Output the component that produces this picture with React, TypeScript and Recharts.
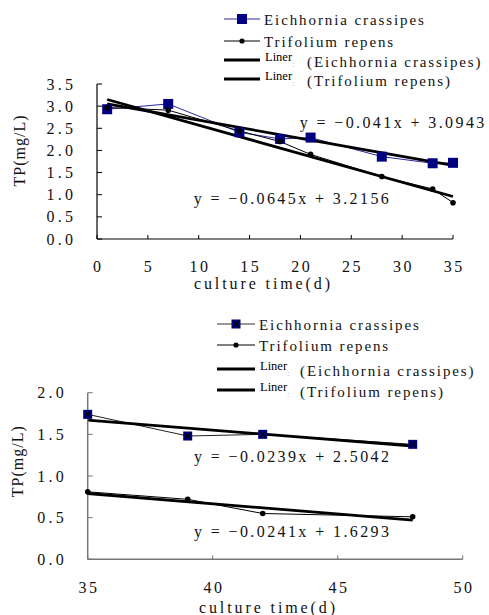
import { Line, LineChart, ReferenceDot, XAxis, YAxis } from 'recharts';

const SERIF = '"Liberation Serif", "DejaVu Serif", serif';
const NAVY = '#000080';
const INK = '#111';

// 0 - 35 d
const earlyDays = [1, 7, 14, 18, 21, 28, 33, 35];
const earlyEichhornia = [2.93, 3.05, 2.41, 2.26, 2.29, 1.86, 1.71, 1.72];
const earlyTrifolium = [2.97, 2.91, 2.44, 2.2, 1.91, 1.41, 1.13, 0.82];
const earlyTrendDays = [1, 35];
const earlyEichTrend = [3.05, 1.66];
const earlyTrifTrend = [3.15, 0.96];
const earlyXTicks = [0, 5, 10, 15, 20, 25, 30, 35];
const earlyYTicks = [0, 0.5, 1, 1.5, 2, 2.5, 3, 3.5];

// 35 - 48 d
const lateDays = [35, 39, 42, 48];
const lateEichhornia = [1.74, 1.48, 1.5, 1.38];
const lateTrifolium = [0.81, 0.72, 0.55, 0.51];
const lateTrendDays = [35, 48];
const lateEichTrend = [1.67, 1.36];
const lateTrifTrend = [0.79, 0.47];
const lateXTicks = [35, 40, 45, 50];
const lateYTicks = [0, 0.5, 1, 1.5, 2];

const toPoints = (days: number[], vals: number[]) => days.map((d, i) => ({ x: d, y: vals[i] }));

function SquareDot(props: any) {
  const { cx, cy, crossed, size } = props;
  if (cx == null || cy == null) return null;
  const h = size / 2;
  return (
    <g>
      <rect x={cx - h} y={cy - h} width={size} height={size} fill={NAVY} />
      {crossed && (
        <path d={`M${cx - 3},${cy - 3}L${cx + 3},${cy + 3}M${cx + 3},${cy - 3}L${cx - 3},${cy + 3}`} stroke="#000" strokeWidth={1.2} />
      )}
    </g>
  );
}

function RoundDot(props: any) {
  const { cx, cy } = props;
  if (cx == null || cy == null) return null;
  return <circle cx={cx} cy={cy} r={2.8} fill="#000" />;
}

// serif text with wide spacing, to look like the SimSun-style original
function Spaced({ x, y, text, size, spacing, anchor = 'start', rotate }: any) {
  let dx = 0;
  if (anchor === 'middle') dx = spacing / 2;
  if (anchor === 'end') dx = spacing;
  return (
    <text
      x={x + dx}
      y={y}
      textAnchor={anchor}
      dominantBaseline="central"
      fontFamily={SERIF}
      fontSize={size}
      letterSpacing={spacing}
      fill={INK}
      transform={rotate ? `rotate(${rotate} ${x} ${y})` : undefined}
    >
      {text}
    </text>
  );
}

function XTick({ x, y, payload }: any) {
  return <Spaced x={x} y={y + 6} text={String(payload.value)} size={16} spacing={2.5} anchor="middle" />;
}

function YTick({ x, y, payload }: any) {
  return <Spaced x={x} y={y} text={Number(payload.value).toFixed(1)} size={16} spacing={3.2} anchor="end" />;
}

function Legend({ left, top, lineW, linerGap, rows, crossed }: any) {
  const x2 = lineW;
  const tx = lineW + 4;
  return (
    <svg width={300} height={100} style={{ position: 'absolute', left, top, overflow: 'visible' }}>
      <line x1={0} x2={x2} y1={rows[0]} y2={rows[0]} stroke={crossed ? '#333' : '#2a2aa0'} strokeWidth={1} />
      <SquareDot cx={x2 / 2} cy={rows[0]} size={crossed ? 9 : 10} crossed={crossed} />
      <Spaced x={tx} y={rows[0] + 1} text="Eichhornia crassipes" size={15} spacing={1.9} />

      <line x1={0} x2={x2} y1={rows[1]} y2={rows[1]} stroke="#000" strokeWidth={1} />
      <circle cx={x2 / 2} cy={rows[1]} r={2.6} fill="#000" />
      <Spaced x={tx} y={rows[1] + 1} text="Trifolium repens" size={15} spacing={1.9} />

      {[2, 3].map((i) => (
        <g key={i}>
          <line x1={0} x2={x2} y1={rows[i]} y2={rows[i]} stroke="#000" strokeWidth={3} />
          <text x={tx + 1} y={rows[i] - 3} fontFamily={SERIF} fontSize={12.5} fill="#000" dominantBaseline="central">
            Liner
          </text>
          <text x={tx + 28} y={rows[i] + 4} fontFamily={SERIF} fontSize={9} fill="#aaa" dominantBaseline="central">:</text>
          <Spaced x={tx + linerGap} y={rows[i] + 2} text={i === 2 ? '(Eichhornia crassipes)' : '(Trifolium repens)'} size={15} spacing={1.9} />
        </g>
      ))}
    </svg>
  );
}

const eqLabel = (value: string) => ({
  content: ({ viewBox }: any) => {
    const cx = viewBox.x + viewBox.width / 2;
    const cy = viewBox.y + viewBox.height / 2;
    return <Spaced x={cx} y={cy} text={value} size={16} spacing={2.4} anchor="middle" />;
  },
});

function TitleY({ cx, cy }: { cx: number; cy: number }) {
  return <Spaced x={cx} y={cy} text="TP(mg/L)" size={16} spacing={1} anchor="middle" rotate={-90} />;
}

function TitleX({ cx, cy }: { cx: number; cy: number }) {
  return <Spaced x={cx} y={cy} text="culture time(d)" size={16} spacing={2.9} anchor="middle" />;
}

function EarlyChart() {
  return (
    <LineChart width={489} height={300} margin={{ top: 84, right: 36, bottom: 21, left: 47 }}>
      <XAxis
        dataKey="x"
        type="number"
        domain={[0, 35]}
        ticks={earlyXTicks}
        interval={0}
        height={40}
        tickSize={-4}
        tickMargin={25}
        tick={<XTick />}
        axisLine={{ stroke: '#000', strokeWidth: 1.2 }}
        tickLine={{ stroke: '#000' }}
        label={{ content: () => <TitleX cx={262} cy={283} /> }}
      />
      <YAxis
        type="number"
        domain={[0, 3.5]}
        ticks={earlyYTicks}
        interval={0}
        width={50}
        tickSize={-5}
        tickMargin={29}
        tick={<YTick />}
        axisLine={{ stroke: '#000', strokeWidth: 1.2 }}
        tickLine={{ stroke: '#000' }}
        label={{ content: () => <TitleY cx={19} cy={151} /> }}
      />
      <Line data={toPoints(earlyDays, earlyEichhornia)} dataKey="y" stroke="#2a2aa0" strokeWidth={1} dot={(p: any) => <SquareDot key={p.index} {...p} size={10} />} isAnimationActive={false} />
      <Line data={toPoints(earlyDays, earlyTrifolium)} dataKey="y" stroke="#000" strokeWidth={1} dot={(p: any) => <RoundDot key={p.index} {...p} />} isAnimationActive={false} />
      <Line data={toPoints(earlyTrendDays, earlyEichTrend)} dataKey="y" stroke="#000" strokeWidth={2.8} dot={false} isAnimationActive={false} />
      <Line data={toPoints(earlyTrendDays, earlyTrifTrend)} dataKey="y" stroke="#000" strokeWidth={2.8} dot={false} isAnimationActive={false} />
      <ReferenceDot x={29} y={2.63} r={0} stroke="none" label={eqLabel('y = −0.041x + 3.0943')} />
      <ReferenceDot x={19.1} y={0.92} r={0} stroke="none" label={eqLabel('y = −0.0645x + 3.2156')} />
    </LineChart>
  );
}

function LateChart() {
  return (
    <LineChart width={489} height={315} margin={{ top: 92.7, right: 26.3, bottom: 15.7, left: 37.7 }}>
      <XAxis
        dataKey="x"
        type="number"
        domain={[35, 50]}
        ticks={lateXTicks}
        interval={0}
        height={40}
        tickSize={-4}
        tickMargin={26}
        tick={<XTick />}
        axisLine={{ stroke: '#777', strokeWidth: 1.5 }}
        tickLine={{ stroke: '#777' }}
        label={{ content: () => <TitleX cx={267} cy={307.5} /> }}
      />
      <YAxis
        type="number"
        domain={[0, 2]}
        ticks={lateYTicks}
        interval={0}
        width={50}
        tickSize={-5}
        tickMargin={29}
        tick={<YTick />}
        axisLine={{ stroke: '#777', strokeWidth: 1.5 }}
        tickLine={{ stroke: '#777' }}
        label={{ content: () => <TitleY cx={18} cy={161.7} /> }}
      />
      <Line data={toPoints(lateDays, lateEichhornia)} dataKey="y" stroke="#222" strokeWidth={1} dot={(p: any) => <SquareDot key={p.index} {...p} size={9} crossed />} isAnimationActive={false} />
      <Line data={toPoints(lateDays, lateTrifolium)} dataKey="y" stroke="#000" strokeWidth={1} dot={(p: any) => <RoundDot key={p.index} {...p} />} isAnimationActive={false} />
      <Line data={toPoints(lateTrendDays, lateEichTrend)} dataKey="y" stroke="#000" strokeWidth={2.8} dot={false} isAnimationActive={false} />
      <Line data={toPoints(lateTrendDays, lateTrifTrend)} dataKey="y" stroke="#000" strokeWidth={2.8} dot={false} isAnimationActive={false} />
      <ReferenceDot x={43.15} y={1.23} r={0} stroke="none" label={eqLabel('y = −0.0239x + 2.5042')} />
      <ReferenceDot x={43.15} y={0.33} r={0} stroke="none" label={eqLabel('y = −0.0241x + 1.6293')} />
    </LineChart>
  );
}

export default function App() {
  return (
    <div style={{ position: 'absolute', left: 0, top: 0, width: 489, height: 615, background: '#fff', overflow: 'hidden' }}>
      <div style={{ position: 'absolute', left: 0, top: 0 }}>
        <EarlyChart />
      </div>
      <div style={{ position: 'absolute', left: 0, top: 300 }}>
        <LateChart />
      </div>
      <Legend left={224} top={0} lineW={36} linerGap={43} rows={[19, 41, 60, 79]} />
      <Legend left={217} top={300} lineW={38} linerGap={41} rows={[24, 45, 69, 90]} crossed />
    </div>
  );
}
